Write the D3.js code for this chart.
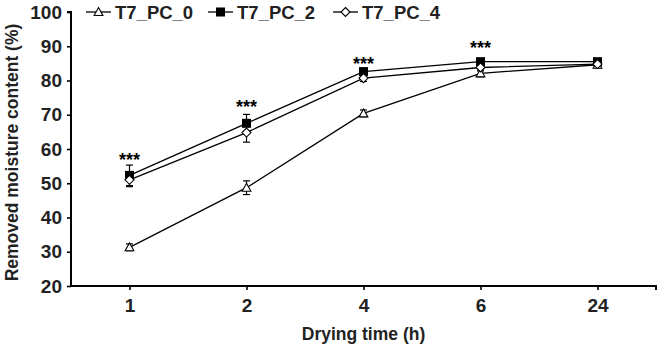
<!DOCTYPE html>
<html>
<head>
<meta charset="utf-8">
<script src="https://cdn.jsdelivr.net/npm/d3@7"></script>
<style>
  html, body { margin: 0; padding: 0; background: #fff; }
  svg { display: block; }
  text { font-family: "Liberation Sans", Arial, sans-serif; font-weight: bold; fill: #222; }
</style>
</head>
<body>
<svg id="chart" width="661" height="346"></svg>
<script>
// ---- data ----
const categories = ["1", "2", "4", "6", "24"];
const seriesNames = ["T7_PC_0", "T7_PC_2", "T7_PC_4"];
const pc0 = [31.3, 48.7, 70.4, 82.1, 84.6];
const pc0Err = [1.0, 2.0, 1.0, 1.0, 0.9];
const pc2 = [52.3, 67.5, 82.6, 85.5, 85.5];
const pc2Err = [3.0, 2.6, 0.8, 0.8, 0.6];
const pc4 = [51.0, 64.8, 80.7, 83.8, 84.8];
const pc4Err = [2.0, 2.8, 1.0, 1.0, 0.8];
const sigCategories = ["1", "2", "4", "6"];
const sigLevels = [58.0, 73.4, 86.0, 90.6];
const sigLabel = "***";
const yTicks = [20, 30, 40, 50, 60, 70, 80, 90, 100];
const xTitle = "Drying time (h)";
const yTitle = "Removed moisture content (%)";

const series = [
  { name: seriesNames[0], values: pc0, err: pc0Err, marker: "triangle" },
  { name: seriesNames[1], values: pc2, err: pc2Err, marker: "square" },
  { name: seriesNames[2], values: pc4, err: pc4Err, marker: "diamond" }
];

// ---- layout ----
const svg = d3.select("#chart");
const mLeft = 71, mRight = 656, mTop = 12, mBottom = 286;

const x = d3.scalePoint().domain(categories).range([mLeft, mRight]).padding(0.5);
const y = d3.scaleLinear().domain([20, 100]).range([mBottom, mTop]);

// Lines
const line = d3.line().x((d, i) => x(categories[i])).y(d => y(d));

function drawMarker(g, type, cx, cy) {
  if (type === "triangle") {
    const s = 4.4;
    g.append("path")
      .attr("d", `M${cx},${cy - s} L${cx + s},${cy + s * 0.8} L${cx - s},${cy + s * 0.8} Z`)
      .attr("fill", "#fff").attr("stroke", "#000").attr("stroke-width", 1.1);
  } else if (type === "square") {
    const s = 4.5;
    g.append("rect").attr("x", cx - s).attr("y", cy - s).attr("width", 2 * s).attr("height", 2 * s)
      .attr("fill", "#000");
  } else {
    const s = 4.5;
    g.append("path")
      .attr("d", `M${cx},${cy - s} L${cx + s},${cy} L${cx},${cy + s} L${cx - s},${cy} Z`)
      .attr("fill", "#fff").attr("stroke", "#000").attr("stroke-width", 1.1);
  }
}

const plot = svg.append("g");
series.forEach(s => {
  plot.append("path").attr("d", line(s.values)).attr("fill", "none")
    .attr("stroke", "#000").attr("stroke-width", 1.3);
});
// error bars
series.forEach(s => {
  s.values.forEach((v, i) => {
    const cx = x(categories[i]);
    const y1 = y(v + s.err[i]), y2 = y(v - s.err[i]);
    const eb = plot.append("g").attr("stroke", "#000").attr("stroke-width", 1.2);
    eb.append("line").attr("x1", cx).attr("x2", cx).attr("y1", y1).attr("y2", y2);
    eb.append("line").attr("x1", cx - 3.5).attr("x2", cx + 3.5).attr("y1", y1).attr("y2", y1);
    eb.append("line").attr("x1", cx - 3.5).attr("x2", cx + 3.5).attr("y1", y2).attr("y2", y2);
  });
});
// markers
series.forEach(s => {
  s.values.forEach((v, i) => drawMarker(plot, s.marker, x(categories[i]), y(v)));
});

// significance stars
sigCategories.forEach((c, i) => {
  svg.append("text").attr("x", x(c)).attr("y", y(sigLevels[i]) + 10)
    .attr("text-anchor", "middle").attr("font-size", 18)
    .style("fill", "#000").text(sigLabel);
});

// Axes
const yAxis = svg.append("g").attr("transform", `translate(${mLeft},0)`)
  .call(d3.axisLeft(y).tickValues(yTicks).tickSize(4).tickPadding(5));
const xAxis = svg.append("g").attr("transform", `translate(0,${mBottom})`)
  .call(d3.axisBottom(x).tickSize(4).tickPadding(9).tickSizeOuter(0));
[yAxis, xAxis].forEach(a => {
  a.select(".domain").attr("stroke", "#000").attr("stroke-width", 2);
  a.selectAll(".tick line").attr("stroke", "#000").attr("stroke-width", 1.6);
  a.selectAll("text").attr("font-size", 19).attr("font-family", null).style("fill", "#222");
});
yAxis.select(".domain").attr("d", `M-4,${y(100)}H0V${mBottom}`);
xAxis.select(".domain").attr("d", `M${mLeft},0H${mRight}V4`);
xAxis.selectAll(".tick text").attr("dy", "0.71em");

// Axis titles
svg.append("text").attr("x", (mLeft + mRight) / 2).attr("y", 339.5)
  .attr("text-anchor", "middle").attr("font-size", 17.5).text(xTitle);
svg.append("text").attr("transform", `translate(18,${152.5}) rotate(-90)`)
  .attr("text-anchor", "middle").attr("font-size", 17.5).text(yTitle);

// Legend
const legendX = [86, 208, 333];
const legend = svg.append("g");
series.forEach((s, i) => {
  const lx = legendX[i], ly = 12;
  legend.append("line").attr("x1", lx).attr("x2", lx + 25).attr("y1", ly).attr("y2", ly)
    .attr("stroke", "#000").attr("stroke-width", 1.3);
  drawMarker(legend, s.marker, lx + 12.5, ly);
  legend.append("text").attr("x", lx + 29).attr("y", ly + 6.5).attr("font-size", 18.5).text(s.name);
});
</script>
</body>
</html>
